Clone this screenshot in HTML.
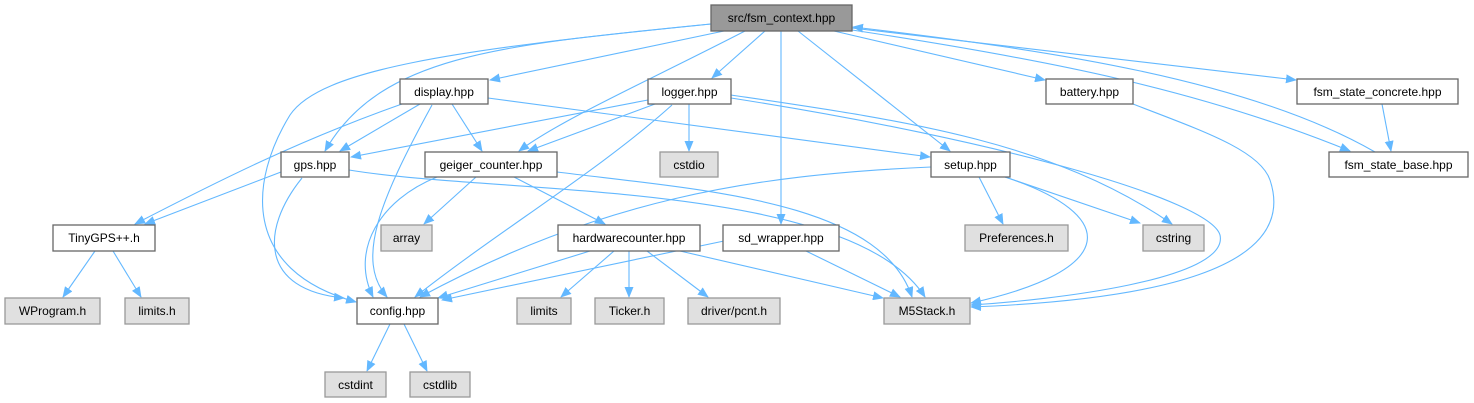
<!DOCTYPE html>
<html><head><meta charset="utf-8"><style>
body{margin:0;background:#fff;}
svg{display:block;font-family:"Liberation Sans",sans-serif;font-size:12px;}
.e{fill:none;stroke:#63b8ff;stroke-width:1.1;}
.n rect{fill:#fff;stroke:#666;stroke-width:1.3;}
.g rect{fill:#e0e0e0;stroke:#999;stroke-width:1.3;}
.r rect{fill:#999;stroke:#666;stroke-width:1.3;}
text{text-anchor:middle;fill:#000;}
</style></head><body>
<svg width="1474" height="403" viewBox="0 0 1474 403">
<defs><marker id="a" markerWidth="11" markerHeight="9" refX="10" refY="4.5" orient="auto" markerUnits="userSpaceOnUse"><path d="M0,0 L11,4.5 L0,9 z" fill="#63b8ff"/></marker></defs>
<g marker-end="url(#a)">
<path class="e" d="M724,31 L490,80"/>
<path class="e" d="M765,31 L712,78"/>
<path class="e" d="M711,24 C500,45 380,55 325,151"/>
<path class="e" d="M711,24 C450,50 320,70 290,115 C250,180 240,270 356,302"/>
<path class="e" d="M745,31 C650,80 560,120 519,151"/>
<path class="e" d="M781,31 L781,224"/>
<path class="e" d="M798,31 L950,151"/>
<path class="e" d="M834,31 L1045,80"/>
<path class="e" d="M852,28 L1296,80"/>
<path class="e" d="M852,30 C1050,60 1200,90 1350,151"/>
<path class="e" d="M1375,152 C1250,80 1050,50 853,27"/>
<path class="e" d="M1382,104 L1391,151"/>
<path class="e" d="M420,104 L340,151"/>
<path class="e" d="M402,104 C300,140 220,180 135,224"/>
<path class="e" d="M432,105 C380,200 355,260 387,297"/>
<path class="e" d="M452,104 L482,151"/>
<path class="e" d="M488,98 L930,157"/>
<path class="e" d="M648,100 L351,157"/>
<path class="e" d="M655,104 L528,151"/>
<path class="e" d="M672,105 C600,170 500,230 415,297"/>
<path class="e" d="M689,104 L689,151"/>
<path class="e" d="M731,95 C900,120 1050,140 1172,224"/>
<path class="e" d="M731,98 C1000,140 1210,200 1220,235 C1230,280 1050,300 971,305"/>
<path class="e" d="M281,172 L145,224"/>
<path class="e" d="M302,178 C260,230 260,290 344,298"/>
<path class="e" d="M349,170 C500,195 850,180 925,297"/>
<path class="e" d="M437,177 C380,200 350,250 373,297"/>
<path class="e" d="M476,177 L424,224"/>
<path class="e" d="M514,177 L605,224"/>
<path class="e" d="M557,172 C700,190 880,200 912,297"/>
<path class="e" d="M931,167 C750,175 600,200 420,297"/>
<path class="e" d="M979,177 L1003,224"/>
<path class="e" d="M1005,177 L1140,223"/>
<path class="e" d="M1005,177 C1120,215 1120,270 971,303"/>
<path class="e" d="M590,251 L438,298"/>
<path class="e" d="M614,251 L561,297"/>
<path class="e" d="M629,251 L629,297"/>
<path class="e" d="M647,251 L708,297"/>
<path class="e" d="M680,251 L883,298"/>
<path class="e" d="M724,241 L442,300"/>
<path class="e" d="M806,251 L900,297"/>
<path class="e" d="M1133,104 C1200,130 1260,150 1270,180 C1300,270 1150,300 971,307"/>
<path class="e" d="M95,251 L63,297"/>
<path class="e" d="M113,251 L141,297"/>
<path class="e" d="M390,324 L367,371"/>
<path class="e" d="M404,324 L427,371"/>
</g>
<g class="r"><rect x="711" y="5" width="141" height="26"/><text x="781.5" y="22">src/fsm_context.hpp</text></g>
<g class="n"><rect x="400" y="79" width="88" height="25"/><text x="444" y="96">display.hpp</text></g>
<g class="n"><rect x="648" y="79" width="83" height="25"/><text x="689.5" y="96">logger.hpp</text></g>
<g class="n"><rect x="1046" y="79" width="87" height="25"/><text x="1089.5" y="96">battery.hpp</text></g>
<g class="n"><rect x="1297" y="79" width="161" height="25"/><text x="1377.5" y="96">fsm_state_concrete.hpp</text></g>
<g class="n"><rect x="281" y="152" width="68" height="25"/><text x="315" y="169">gps.hpp</text></g>
<g class="n"><rect x="425" y="152" width="132" height="25"/><text x="491" y="169">geiger_counter.hpp</text></g>
<g class="g"><rect x="660" y="152" width="58" height="25"/><text x="689" y="169">cstdio</text></g>
<g class="n"><rect x="931" y="152" width="79" height="25"/><text x="970.5" y="169">setup.hpp</text></g>
<g class="n"><rect x="1329" y="152" width="139" height="25"/><text x="1398.5" y="169">fsm_state_base.hpp</text></g>
<g class="n"><rect x="53" y="225" width="102" height="26"/><text x="104" y="242">TinyGPS++.h</text></g>
<g class="g"><rect x="381" y="225" width="51" height="26"/><text x="406.5" y="242">array</text></g>
<g class="n"><rect x="558" y="225" width="142" height="26"/><text x="629" y="242">hardwarecounter.hpp</text></g>
<g class="n"><rect x="723" y="225" width="116" height="26"/><text x="781" y="242">sd_wrapper.hpp</text></g>
<g class="g"><rect x="965" y="225" width="103" height="26"/><text x="1016.5" y="242">Preferences.h</text></g>
<g class="g"><rect x="1143" y="225" width="61" height="26"/><text x="1173.5" y="242">cstring</text></g>
<g class="g"><rect x="5" y="298" width="95" height="26"/><text x="52.5" y="315">WProgram.h</text></g>
<g class="g"><rect x="125" y="298" width="64" height="26"/><text x="157" y="315">limits.h</text></g>
<g class="n"><rect x="357" y="298" width="81" height="26"/><text x="397.5" y="315">config.hpp</text></g>
<g class="g"><rect x="517" y="298" width="54" height="26"/><text x="544" y="315">limits</text></g>
<g class="g"><rect x="595" y="298" width="69" height="26"/><text x="629.5" y="315">Ticker.h</text></g>
<g class="g"><rect x="688" y="298" width="92" height="26"/><text x="734" y="315">driver/pcnt.h</text></g>
<g class="g"><rect x="884" y="298" width="86" height="26"/><text x="927" y="315">M5Stack.h</text></g>
<g class="g"><rect x="325" y="372" width="61" height="25"/><text x="355.5" y="389">cstdint</text></g>
<g class="g"><rect x="410" y="372" width="60" height="25"/><text x="440" y="389">cstdlib</text></g>
</svg>
</body></html>
